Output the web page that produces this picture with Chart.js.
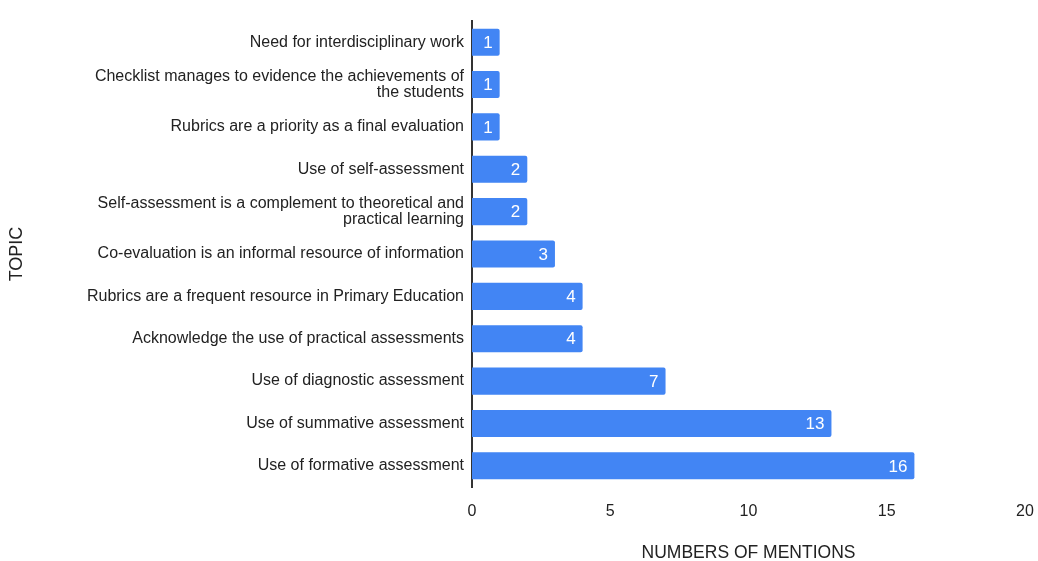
<!DOCTYPE html>
<html>
<head>
<meta charset="utf-8">
<script src="https://cdn.jsdelivr.net/npm/chart.js@4"></script>
<style>
  html, body { margin: 0; padding: 0; background: #fff; }
</style>
</head>
<body>
<canvas id="chartTopics" width="1038" height="561"></canvas>
<script>
const topics = [
  'Need for interdisciplinary work',
  ['Checklist manages to evidence the achievements of', 'the students'],
  'Rubrics are a priority as a final evaluation',
  'Use of self-assessment',
  ['Self-assessment is a complement to theoretical and', 'practical learning'],
  'Co-evaluation is an informal resource of information',
  'Rubrics are a frequent resource in Primary Education',
  'Acknowledge the use of practical assessments',
  'Use of diagnostic assessment',
  'Use of summative assessment',
  'Use of formative assessment'
];
const mentions = [1, 1, 1, 2, 2, 3, 4, 4, 7, 13, 16];
const xTicks = [0, 5, 10, 15, 20];

const FONT = '"Liberation Sans", Arial, sans-serif';

// white value labels at the end of each bar
const barValues = {
  id: 'barValues',
  afterDatasetsDraw(chart) {
    const ctx = chart.ctx;
    const meta = chart.getDatasetMeta(0);
    ctx.save();
    ctx.fillStyle = '#ffffff';
    ctx.font = '17px ' + FONT;
    ctx.textAlign = 'right';
    ctx.textBaseline = 'middle';
    meta.data.forEach((bar, i) => {
      ctx.fillText(String(mentions[i]), bar.x - 7, bar.y + 1);
    });
    ctx.restore();
  }
};

const ctx = document.getElementById('chartTopics');
new Chart(ctx, {
  type: 'bar',
  data: {
    labels: topics,
    datasets: [{
      label: 'Mentions',
      data: mentions,
      backgroundColor: '#4285f4',
      borderRadius: 2,
      borderSkipped: 'left',
      barPercentage: 0.64,
      categoryPercentage: 1
    }]
  },
  plugins: [barValues],
  options: {
    indexAxis: 'y',
    responsive: false,
    animation: false,
    layout: { padding: { top: 21, right: 13, left: 0, bottom: 0 } },
    plugins: {
      legend: { display: false },
      tooltip: { enabled: false }
    },
    scales: {
      x: {
        min: 0,
        max: 20,
        afterBuildTicks: s => { s.ticks = xTicks.map(v => ({ value: v })); },
        afterFit: s => { s.height = 74; s.paddingLeft = 0; s.paddingRight = 0; },
        grid: { display: false, drawTicks: false },
        border: { display: false },
        ticks: {
          padding: 15,
          color: '#222',
          font: { family: FONT, size: 16 },
          maxRotation: 0
        },
        title: {
          display: true,
          text: 'NUMBERS OF MENTIONS',
          color: '#222',
          font: { family: FONT, size: 17.5 },
          padding: { top: 14, bottom: -3 }
        }
      },
      y: {
        afterFit: s => { s.width = 472; },
        grid: { display: false, drawTicks: false },
        border: { display: true, color: '#333', width: 2 },
        ticks: {
          padding: 8,
          color: '#222',
          font: { family: FONT, size: 16, lineHeight: 1.05 }
        },
        title: {
          display: true,
          text: 'TOPIC',
          color: '#222',
          font: { family: FONT, size: 18 },
          padding: { top: 6, bottom: 0 }
        }
      }
    }
  }
});
</script>
</body>
</html>
